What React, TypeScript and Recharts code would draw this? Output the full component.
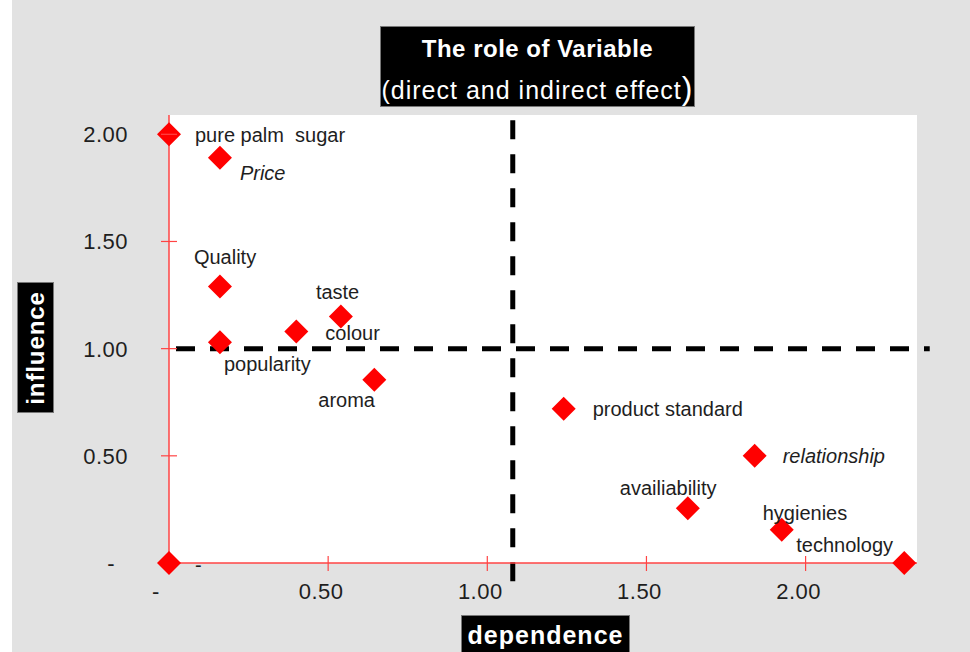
import { ScatterChart, Scatter, XAxis, YAxis, ReferenceLine, ReferenceArea } from 'recharts';

// ── Data ──────────────────────────────────────────────────────────────────────

const NAMES = [
  'pure palm  sugar', 'Price', 'Quality', 'popularity', 'colour', 'taste', 'aroma',
  'product standard', 'relationship', 'availiability', 'hygienies', 'technology', '-',
];
const DEPENDENCE = [0, 0.16, 0.16, 0.16, 0.4, 0.54, 0.645, 1.24, 1.84, 1.63, 1.925, 2.31, 0];
const INFLUENCE = [2.0, 1.89, 1.29, 1.03, 1.08, 1.15, 0.855, 0.72, 0.5, 0.255, 0.155, 0, 0];

const X_TICKS = [0, 0.5, 1, 1.5, 2];
const Y_TICKS = [0, 0.5, 1, 1.5, 2];
const TICK_LABELS = ['-', '0.50', '1.00', '1.50', '2.00'];

const X_CUT = 1.08; // mean dependence
const Y_CUT = 1.0;  // mean influence

// ── Styling / label placement ─────────────────────────────────────────────────

const FONT = '"Liberation Sans", Arial, Helvetica, sans-serif';
const AXIS_RED = '#ff4444';
const TEXT = '#1e1e1e';

// offset of label start from point centre, italic flag
const LABEL_POS: Record<string, { dx: number; dy: number; italic?: boolean }> = {
  'pure palm  sugar': { dx: 26, dy: 1 },
  Price: { dx: 20, dy: 15, italic: true },
  Quality: { dx: -26, dy: -29 },
  popularity: { dx: 4, dy: 22 },
  colour: { dx: 29, dy: 2 },
  taste: { dx: -25, dy: -24 },
  aroma: { dx: -56, dy: 20 },
  'product standard': { dx: 29, dy: 0 },
  relationship: { dx: 28, dy: 0, italic: true },
  availiability: { dx: -68, dy: -20 },
  hygienies: { dx: -19, dy: -17 },
  technology: { dx: -108, dy: -18 },
  '-': { dx: 26, dy: 2 },
};

const data = NAMES.map((name, i) => ({ name, x: DEPENDENCE[i], y: INFLUENCE[i] }));

const Diamond = (props: any) => {
  const { cx, cy, payload } = props;
  if (cx == null || cy == null) return null;
  const s = 12;
  const pos = LABEL_POS[payload.name] ?? { dx: 20, dy: 0 };
  return (
    <g>
      <polygon
        points={`${cx},${cy - s} ${cx + s},${cy} ${cx},${cy + s} ${cx - s},${cy}`}
        fill="#ff0000"
      />
      <text
        x={cx + pos.dx}
        y={cy + pos.dy + 7}
        fontSize={20}
        fontFamily={FONT}
        fontStyle={pos.italic ? 'italic' : 'normal'}
        fill={TEXT}
        style={{ whiteSpace: 'pre' }}
      >
        {payload.name}
      </text>
    </g>
  );
};

const XTick = (props: any) => {
  const { x, y, payload, index } = props;
  const first = payload.value === 0;
  return (
    <g>
      {!first && <line x1={x} x2={x} y1={y - 7} y2={y + 8} stroke={AXIS_RED} strokeWidth={1.2} />}
      <text
        x={x + (first ? -13 : -7)}
        y={y + 36}
        textAnchor="middle"
        fontSize={22}
        fontFamily={FONT}
        fill={TEXT}
        letterSpacing={0.5}
      >
        {TICK_LABELS[index] ?? ''}
      </text>
    </g>
  );
};

const YTick = (props: any) => {
  const { x, y, payload, index } = props;
  const first = payload.value === 0;
  return (
    <g>
      {!first && <line x1={x - 8} x2={x + 8} y1={y} y2={y} stroke={AXIS_RED} strokeWidth={1.2} />}
      <text
        x={x + (first ? -54 : -41)}
        y={y + 8}
        textAnchor="end"
        fontSize={22}
        fontFamily={FONT}
        fill={TEXT}
        letterSpacing={0.5}
      >
        {TICK_LABELS[index] ?? ''}
      </text>
    </g>
  );
};

const blackBox: React.CSSProperties = {
  position: 'absolute',
  background: '#000',
  color: '#fff',
  border: '1px solid #777',
  boxSizing: 'border-box',
  fontFamily: FONT,
};

export default function App() {
  return (
    <div style={{ position: 'absolute', left: 0, top: 0, width: 970, height: 652, background: '#fff', overflow: 'hidden' }}>
      <div style={{ position: 'absolute', left: 12, top: 0, width: 958, height: 652, background: '#e2e2e2' }} />
      <div style={{ position: 'absolute', left: 0, top: 0 }}>
        <ScatterChart width={970} height={652} margin={{ top: 115, right: 53, bottom: 29, left: 109 }}>
          <ReferenceArea x1={0} x2={2.35} y1={0} y2={2.09} fill="#ffffff" fillOpacity={1} stroke="none" />
          <XAxis
            type="number"
            dataKey="x"
            domain={[0, 2.35]}
            ticks={X_TICKS}
            height={60}
            axisLine={{ stroke: AXIS_RED, strokeWidth: 1.5 }}
            tickLine={false}
            tickSize={0}
            tickMargin={0}
            tick={<XTick />}
            interval={0}
          />
          <YAxis
            type="number"
            dataKey="y"
            domain={[0, 2.09]}
            ticks={Y_TICKS}
            width={60}
            axisLine={{ stroke: AXIS_RED, strokeWidth: 1.5 }}
            tickLine={false}
            tickSize={0}
            tickMargin={0}
            tick={<YTick />}
            interval={0}
          />
          <Scatter data={data} shape={<Diamond />} isAnimationActive={false} />
          <ReferenceLine
            segment={[{ x: X_CUT, y: -0.085 }, { x: X_CUT, y: 2.09 }]}
            ifOverflow="visible"
            stroke="#000"
            strokeWidth={5}
            strokeDasharray="19 15"
          />
          <ReferenceLine
            segment={[{ x: 0.022, y: Y_CUT }, { x: 2.39, y: Y_CUT }]}
            ifOverflow="visible"
            stroke="#000"
            strokeWidth={5}
            strokeDasharray="19 15"
          />
        </ScatterChart>
      </div>

      {/* title */}
      <div style={{ ...blackBox, left: 380, top: 26, width: 315, height: 81 }}>
        <div style={{ position: 'absolute', left: 0, right: 0, top: 8, textAlign: 'center', fontSize: 24, fontWeight: 'bold', lineHeight: '28px', letterSpacing: 0.5 }}>
          The role of Variable
        </div>
        <div style={{ position: 'absolute', left: 0, right: 0, top: 46, textAlign: 'center', fontSize: 25, lineHeight: '30px', letterSpacing: 1 }}>
          (direct and indirect effect<span style={{ fontSize: 32 }}>)</span>
        </div>
      </div>

      {/* y axis title */}
      <div style={{ ...blackBox, left: 17, top: 282, width: 37, height: 131 }}>
        <div style={{ position: 'absolute', left: 18, top: 65, transform: 'translate(-50%, -50%) rotate(-90deg)', fontSize: 24, fontWeight: 'bold', letterSpacing: 0.9, whiteSpace: 'nowrap', lineHeight: '28px' }}>
          influence
        </div>
      </div>

      {/* x axis title */}
      <div style={{ ...blackBox, left: 461, top: 615, width: 169, height: 45 }}>
        <div style={{ position: 'absolute', left: 0, right: 0, top: 4, textAlign: 'center', fontSize: 25, fontWeight: 'bold', letterSpacing: 1, lineHeight: '30px' }}>
          dependence
        </div>
      </div>
    </div>
  );
}
